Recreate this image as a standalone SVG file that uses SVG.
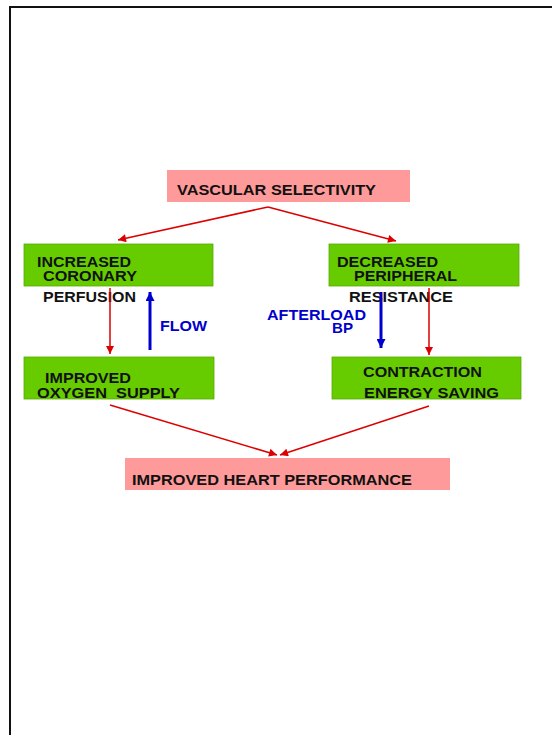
<svg xmlns="http://www.w3.org/2000/svg" width="552" height="735" viewBox="0 0 552 735">
<style>
text{font-family:"Liberation Sans",Arial,sans-serif;font-weight:bold;font-size:15.5px;fill:#111}
.pink{fill:#ff9a9a}
.green{fill:#66cc00;stroke:#55aa00;stroke-width:0.8}
.blue{fill:#0000cc}
.red{stroke:#dd0000;stroke-width:1.5;fill:none}
.bl{stroke:#0000cc;stroke-width:3;fill:none}
</style>
<defs>
<marker id="ar" viewBox="0 0 10 10" refX="10" refY="5" markerWidth="13" markerHeight="8" markerUnits="userSpaceOnUse" orient="auto"><path d="M0,0L10,5L0,10z" fill="#dd0000"/></marker>
<marker id="ab" viewBox="0 0 10 10" refX="10" refY="5" markerWidth="18" markerHeight="9" markerUnits="userSpaceOnUse" orient="auto"><path d="M0,0L10,5L0,10z" fill="#0000cc"/></marker>
</defs>
<rect x="10" y="7" width="560" height="740" fill="#fff" stroke="#111" stroke-width="2"/>
<g id="vascular"><rect class="pink" x="167" y="170" width="243" height="32"/><text x="177" y="195" textLength="199" lengthAdjust="spacingAndGlyphs">VASCULAR SELECTIVITY</text></g>
<g id="increased"><rect class="green" x="24" y="244" width="189" height="42"/><text x="37" y="267" textLength="94" lengthAdjust="spacingAndGlyphs">INCREASED</text><text x="43" y="281" textLength="94" lengthAdjust="spacingAndGlyphs">CORONARY</text><text x="43" y="302" textLength="93" lengthAdjust="spacingAndGlyphs">PERFUSION</text></g>
<g id="decreased"><rect class="green" x="329" y="244" width="190" height="42"/><text x="337" y="267" textLength="101" lengthAdjust="spacingAndGlyphs">DECREASED</text><text x="354" y="281" textLength="103" lengthAdjust="spacingAndGlyphs">PERIPHERAL</text><text x="349" y="302" textLength="104" lengthAdjust="spacingAndGlyphs">RESISTANCE</text></g>
<g id="improved-oxygen"><rect class="green" x="24" y="357" width="190" height="42"/><text x="45" y="383" textLength="86" lengthAdjust="spacingAndGlyphs">IMPROVED</text><text x="37" y="398" textLength="143" lengthAdjust="spacingAndGlyphs" xml:space="preserve">OXYGEN  SUPPLY</text></g>
<g id="contraction"><rect class="green" x="332" y="357" width="189" height="42"/><text x="363" y="377" textLength="119" lengthAdjust="spacingAndGlyphs">CONTRACTION</text><text x="364" y="398" textLength="135" lengthAdjust="spacingAndGlyphs">ENERGY SAVING</text></g>
<g id="heart"><rect class="pink" x="125" y="458" width="325" height="32"/><text x="132" y="485" textLength="280" lengthAdjust="spacingAndGlyphs">IMPROVED HEART PERFORMANCE</text></g>
<g id="flow-label"><text class="blue" x="160" y="331" textLength="47" lengthAdjust="spacingAndGlyphs">FLOW</text></g>
<g id="afterload-label"><text class="blue" x="267" y="320" textLength="99" lengthAdjust="spacingAndGlyphs">AFTERLOAD</text><text class="blue" x="332" y="333" textLength="21" lengthAdjust="spacingAndGlyphs">BP</text></g>
<g id="connectors">
<path class="red" d="M268,207L118,240" marker-end="url(#ar)"/>
<path class="red" d="M268,207L396,241" marker-end="url(#ar)"/>
<path class="red" d="M110,288L110,354" marker-end="url(#ar)"/>
<path class="red" d="M429,288L429,355" marker-end="url(#ar)"/>
<path class="red" d="M110,405L277,455" marker-end="url(#ar)"/>
<path class="red" d="M429,406L280,455" marker-end="url(#ar)"/>
<path class="bl" d="M150,350L150,292" marker-end="url(#ab)"/>
<path class="bl" d="M381,292L381,348" marker-end="url(#ab)"/>
</g>
</svg>
